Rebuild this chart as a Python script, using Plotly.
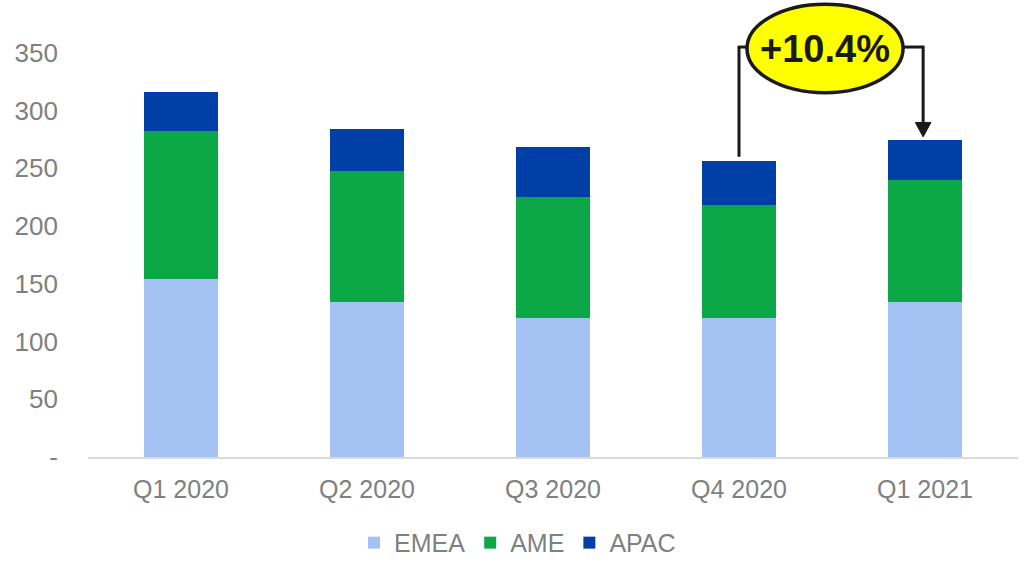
import plotly.graph_objects as go

quarters = ["Q1 2020", "Q2 2020", "Q3 2020", "Q4 2020", "Q1 2021"]
emea = [154, 134.6, 120.5, 120.5, 134.3]
ame = [128.5, 113.2, 104.8, 97.9, 105.7]
apac = [34, 36.4, 43.3, 38.1, 34.7]
ytick_vals = [0, 50, 100, 150, 200, 250, 300, 350]
ytick_text = ["-", "50", "100", "150", "200", "250", "300", "350"]
growth_label = "+10.4%"

colors = {"EMEA": "#A4C2F4", "AME": "#0CA747", "APAC": "#0040A6"}
FONT = "Liberation Sans, Arial, sans-serif"
GRAY = "#808080"

fig = go.Figure()
for name, vals in [("EMEA", emea), ("AME", ame), ("APAC", apac)]:
    fig.add_trace(go.Bar(x=quarters, y=vals, name=name,
                         marker=dict(color=colors[name], line=dict(width=0))))

totals = [a + b + c for a, b, c in zip(emea, ame, apac)]
i0, i1 = 3, 4
bracket_y = 355
line_style = dict(color="#1a1a1a", width=3)

# left vertical line from Q4 2020 bar top up to bracket
fig.add_shape(type="line", x0=i0, x1=i0, y0=totals[i0] + 3.5, y1=bracket_y,
              xref="x", yref="y", line=line_style)
# horizontal segments
fig.add_shape(type="line", x0=i0 - 0.007, x1=i0 + 0.05, y0=bracket_y, y1=bracket_y,
              xref="x", yref="y", line=line_style)
fig.add_shape(type="line", x0=i1 - 0.13, x1=i1 - 0.01, y0=bracket_y, y1=bracket_y,
              xref="x", yref="y", line=line_style)
# right vertical line down to arrow head
tip = totals[i1] + 2.5
fig.add_shape(type="line", x0=i1 - 0.01, x1=i1 - 0.01, y0=bracket_y + 1.2, y1=tip + 10,
              xref="x", yref="y", line=line_style)
# arrow head
fig.add_shape(type="path",
              path=f"M {i1-0.01-0.042} {tip+12.5} L {i1-0.01+0.042} {tip+12.5} L {i1-0.01} {tip} Z",
              xref="x", yref="y", fillcolor="#1a1a1a", line=dict(color="#1a1a1a", width=1))
# ellipse
fig.add_shape(type="circle", x0=3.043, x1=3.882, y0=315.5, y1=392.0,
              xref="x", yref="y", fillcolor="#FFFF00", line=dict(color="#1a1a1a", width=3.5))
fig.add_annotation(x=3.465, y=353.5, xref="x", yref="y", text=f"<b>{growth_label}</b>",
                   showarrow=False, font=dict(family=FONT, size=38, color="#1a1a1a"))

fig.update_layout(
    width=1026, height=562,
    margin=dict(l=88, r=8, t=2, b=105, autoexpand=False),
    barmode="stack", bargap=0.6,
    plot_bgcolor="white", paper_bgcolor="white",
    font=dict(family=FONT, size=25, color=GRAY),
    showlegend=True,
    legend=dict(orientation="h", xref="container", yref="container",
                x=0.5044, xanchor="center", y=0.034, yanchor="middle",
                font=dict(family=FONT, size=25, color=GRAY), traceorder="normal",
                itemwidth=30),
)
fig.update_xaxes(type="category", showgrid=False, showline=True, linecolor="#d9d9d9",
                 linewidth=1.5, ticks="", tickfont=dict(size=25, color=GRAY),
                 ticklabelstandoff=9, automargin=False)
fig.update_yaxes(range=[0, 394], showgrid=False, zeroline=False, showline=False,
                 tickvals=ytick_vals, ticktext=ytick_text, ticks="",
                 tickfont=dict(size=26, color=GRAY), ticklabelstandoff=29, automargin=False)

fig.write_html("out.html", config={"displayModeBar": False},
               post_script="document.body.style.margin='0';")
